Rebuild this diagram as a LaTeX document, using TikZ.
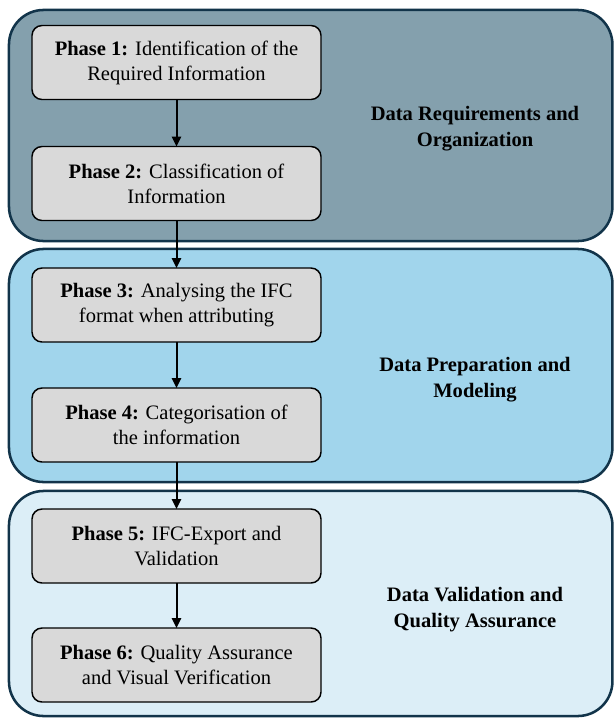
\documentclass[tikz,border=0pt]{standalone}
\usepackage{fontspec}
\setmainfont{Liberation Serif}
\usetikzlibrary{arrows.meta}

\definecolor{navy}{HTML}{12344A}
\definecolor{grpA}{HTML}{84A0AD}
\definecolor{grpB}{HTML}{A1D5EC}
\definecolor{grpC}{HTML}{DCEEF7}
\definecolor{phasefill}{HTML}{D9D9D9}

\begin{document}
\begin{tikzpicture}[x=0.75pt, y=-0.75pt]
\tikzset{ >={Triangle[length=7.5pt,width=7pt]}, outer sep=0pt,
  group/.style={draw=navy, line width=1.9pt, rounded corners=26pt,
    minimum width=452.6pt, inner sep=0pt},
  phase/.style={draw=black, line width=1.1pt, fill=phasefill, rounded corners=7.5pt,
    minimum width=216.75pt, minimum height=55.5pt, align=center,
    font=\fontsize{15.4}{18.8}\selectfont},
  grouplabel/.style={align=center, font=\fontsize{15.4}{19.5}\selectfont\bfseries},
  flow/.style={->, line width=1.5pt},
}
\useasboundingbox (0,0) rectangle (614,718);

\node [group, fill=grpA, minimum height=173.3pt] (G1) at (310.7,125.5) {};
\node [group, fill=grpB, minimum height=174.8pt] (G2) at (310.7,365.5) {};
\node [group, fill=grpC, minimum height=168.8pt] (G3) at (310.7,603.5) {};

\node [phase] (P1) at (176.5,62.5)  {\textbf{Phase 1:} Identification of the\\Required Information};
\node [phase] (P2) at (176.5,183.5) {\textbf{Phase 2:} Classification of\\Information};
\node [phase] (P3) at (176.5,305)   {\textbf{Phase 3:} Analysing the IFC\\format when attributing};
\node [phase] (P4) at (176.5,425)   {\textbf{Phase 4:} Categorisation of\\the information};
\node [phase] (P5) at (176.5,546)   {\textbf{Phase 5:} IFC-Export and\\Validation};
\node [phase] (P6) at (176.5,665)   {\textbf{Phase 6:} Quality Assurance\\and Visual Verification};

\draw [flow] (P1) -- (P2);
\draw [flow] (P2) -- (P3);
\draw [flow] (P3) -- (P4);
\draw [flow] (P4) -- (P5);
\draw [flow] (P5) -- (P6);

\node [grouplabel] (L1) at (475,129) {Data Requirements and\\Organization};
\node [grouplabel] (L2) at (475,380) {Data Preparation and\\Modeling};
\node [grouplabel] (L3) at (475,610) {Data Validation and\\Quality Assurance};

\end{tikzpicture}
\end{document}
